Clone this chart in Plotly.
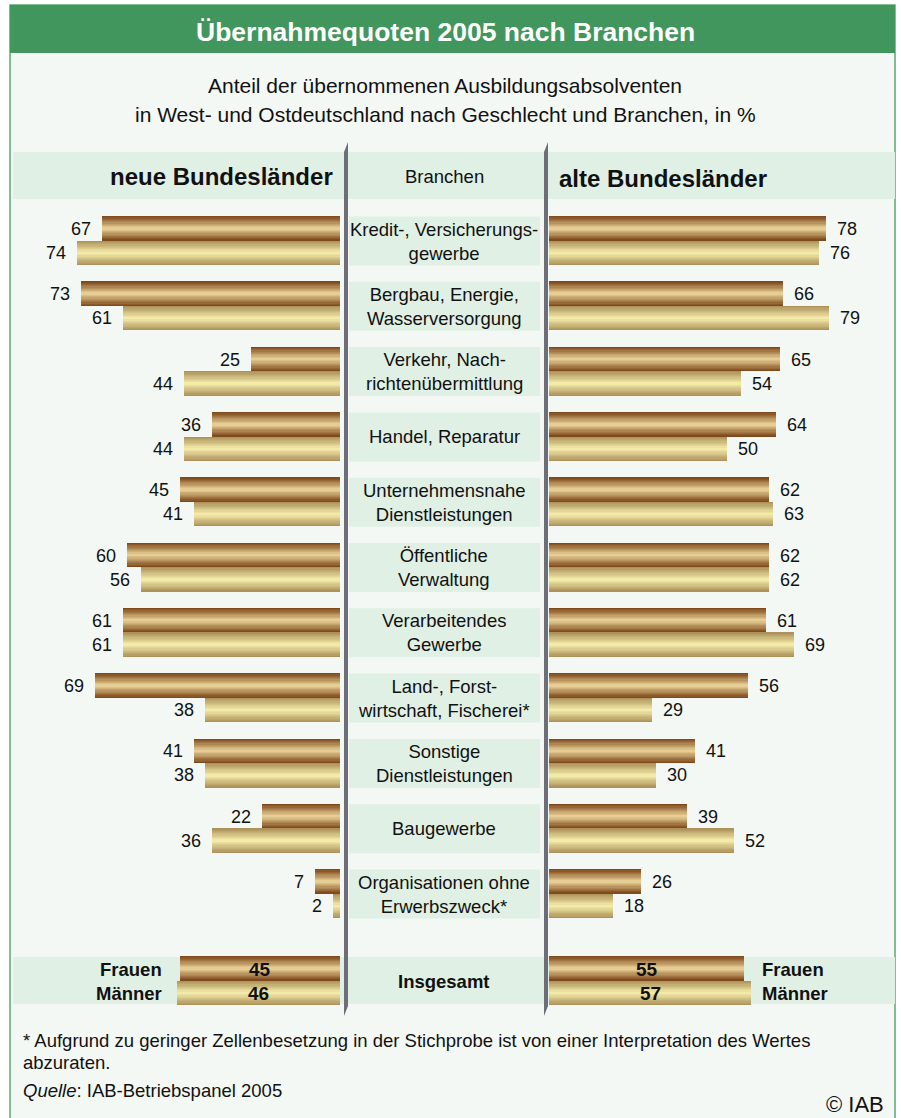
import plotly.graph_objects as go

W, H = 901, 1118

# ---------------- data ----------------
branchen = [
    "Kredit-, Versicherungs-<br>gewerbe",
    "Bergbau, Energie,<br>Wasserversorgung",
    "Verkehr, Nach-<br>richtenübermittlung",
    "Handel, Reparatur",
    "Unternehmensnahe<br>Dienstleistungen",
    "Öffentliche<br>Verwaltung",
    "Verarbeitendes<br>Gewerbe",
    "Land-, Forst-<br>wirtschaft, Fischerei*",
    "Sonstige<br>Dienstleistungen",
    "Baugewerbe",
    "Organisationen ohne<br>Erwerbszweck*",
]
neue_frauen = [67, 73, 25, 36, 45, 60, 61, 69, 41, 22, 7]
neue_maenner = [74, 61, 44, 44, 41, 56, 61, 38, 38, 36, 2]
alte_frauen = [78, 66, 65, 64, 62, 62, 61, 56, 41, 39, 26]
alte_maenner = [76, 79, 54, 50, 63, 62, 69, 29, 30, 52, 18]

total_cat = ["Insgesamt"]
neue_total_frauen = [45]
neue_total_maenner = [46]
alte_total_frauen = [55]
alte_total_maenner = [57]

# ---------------- style ----------------
FONT = "Arial, Liberation Sans, sans-serif"
FRAUEN_EDGE, FRAUEN_CENTER = "#804b1c", "#e6cd93"
MAENNER_EDGE, MAENNER_CENTER = "#ad935b", "#f3eaa8"
BG = "#f3f8f4"
BAND = "#e0f0e4"
GREEN = "#41965d"
SEP = "#6e6e78"
N_LAYERS = 10
BAR_W = 0.375


def px(x):
    return x / W


def py(y):
    return 1 - y / H


def hex2rgb(h):
    h = h.lstrip("#")
    return tuple(int(h[i:i + 2], 16) for i in (0, 2, 4))


def mix(c1, c2, t):
    a, b = hex2rgb(c1), hex2rgb(c2)
    return "rgb(%d,%d,%d)" % tuple(round(a[i] + (b[i] - a[i]) * t) for i in range(3))


fig = go.Figure()


def gradient_bars(values, cats, xa, ya, center_off, edge, center):
    n = len(values)
    for k in range(N_LAYERS):
        f = 1 - k / N_LAYERS
        w = BAR_W * f
        col = mix(edge, center, k / (N_LAYERS - 1))
        fig.add_trace(go.Bar(
            x=values, y=cats, orientation="h",
            width=[w] * n, offset=[center_off - w / 2] * n,
            marker=dict(color=col, line=dict(width=0)),
            xaxis=xa, yaxis=ya, hoverinfo="skip", showlegend=False,
        ))


# main bars
gradient_bars(neue_frauen, branchen, "x", "y", -BAR_W / 2, FRAUEN_EDGE, FRAUEN_CENTER)
gradient_bars(neue_maenner, branchen, "x", "y", BAR_W / 2, MAENNER_EDGE, MAENNER_CENTER)
gradient_bars(alte_frauen, branchen, "x2", "y", -BAR_W / 2, FRAUEN_EDGE, FRAUEN_CENTER)
gradient_bars(alte_maenner, branchen, "x2", "y", BAR_W / 2, MAENNER_EDGE, MAENNER_CENTER)
# totals
gradient_bars(neue_total_frauen, total_cat, "x3", "y2", -BAR_W / 2, FRAUEN_EDGE, FRAUEN_CENTER)
gradient_bars(neue_total_maenner, total_cat, "x3", "y2", BAR_W / 2, MAENNER_EDGE, MAENNER_CENTER)
gradient_bars(alte_total_frauen, total_cat, "x4", "y2", -BAR_W / 2, FRAUEN_EDGE, FRAUEN_CENTER)
gradient_bars(alte_total_maenner, total_cat, "x4", "y2", BAR_W / 2, MAENNER_EDGE, MAENNER_CENTER)

SCALE = 3.55  # px per percent
left_dom = [px(13), px(340)]
right_dom = [px(549), px(895)]
left_range = [(340 - 13) / SCALE, 0]
right_range = [0, (895 - 549) / SCALE]

row0, step = 241.0, 65.3
main_top = row0 - step / 2
main_bot = row0 + step * 10 + step / 2
tot_c = 981.0
tot_top, tot_bot = tot_c - step / 2, tot_c + step / 2

axis_off = dict(showgrid=False, zeroline=False, showticklabels=False, showline=False, ticks="")
fig.update_layout(
    width=W, height=H,
    margin=dict(l=0, r=0, t=0, b=0),
    paper_bgcolor="white", plot_bgcolor="rgba(0,0,0,0)",
    barmode="overlay", bargap=0,
    font=dict(family=FONT, size=18, color="#111111"),
    xaxis=dict(domain=left_dom, range=left_range, anchor="y", fixedrange=True, **axis_off),
    xaxis2=dict(domain=right_dom, range=right_range, anchor="y", fixedrange=True, **axis_off),
    xaxis3=dict(domain=left_dom, range=left_range, anchor="y2", fixedrange=True, **axis_off),
    xaxis4=dict(domain=right_dom, range=right_range, anchor="y2", fixedrange=True, **axis_off),
    yaxis=dict(domain=[py(main_bot), py(main_top)], type="category",
               categoryorder="array", categoryarray=branchen,
               range=[10.5, -0.5], anchor="x", fixedrange=True, **axis_off),
    yaxis2=dict(domain=[py(tot_bot), py(tot_top)], type="category",
                range=[0.5, -0.5], anchor="x3", fixedrange=True, **axis_off),
)

shapes = []
# frame background & border
shapes.append(dict(type="rect", xref="paper", yref="paper", x0=px(10), x1=px(895), y0=py(1125), y1=py(5),
                   fillcolor=BG, line=dict(color="#5aa872", width=1.5), layer="below"))
# title band
shapes.append(dict(type="rect", xref="paper", yref="paper", x0=px(10), x1=px(895), y0=py(53), y1=py(5),
                   fillcolor=GREEN, line=dict(width=0), layer="below"))
# header band
shapes.append(dict(type="rect", xref="paper", yref="paper", x0=px(13), x1=px(895), y0=py(199), y1=py(152),
                   fillcolor=BAND, line=dict(width=0), layer="below"))
# total band
shapes.append(dict(type="rect", xref="paper", yref="paper", x0=px(13), x1=px(895), y0=py(1004), y1=py(957),
                   fillcolor=BAND, line=dict(width=0), layer="below"))
# centre label boxes
for i in range(len(branchen)):
    shapes.append(dict(type="rect", xref="paper", yref="y", x0=px(349), x1=px(540),
                       y0=i - BAR_W, y1=i + BAR_W, fillcolor=BAND, line=dict(width=0), layer="below"))
# separators
for xs in (344, 544):
    path = "M %f,%f L %f,%f L %f,%f L %f,%f Z" % (
        px(xs), py(152), px(xs + 4), py(142), px(xs + 4), py(1006), px(xs), py(1016))
    shapes.append(dict(type="path", xref="paper", yref="paper", path=path,
                       fillcolor=SEP, line=dict(width=0), layer="above"))
fig.update_layout(shapes=shapes)

ann = []


def paper_text(x, y, text, size=18, anchor="center", bold=False, color="#111111"):
    ann.append(dict(xref="paper", yref="paper", x=px(x), y=py(y), text=("<b>%s</b>" % text) if bold else text,
                    showarrow=False, xanchor=anchor, yanchor="middle",
                    font=dict(size=size, color=color, family=FONT)))


paper_text(445, 32, "Übernahmequoten 2005 nach Branchen", size=26.5, bold=True, color="white")
paper_text(445, 85, "Anteil der übernommenen Ausbildungsabsolventen", size=21)
paper_text(445, 114, "in West- und Ostdeutschland nach Geschlecht und Branchen, in %", size=21)
paper_text(335, 177, "neue Bundesländer", size=24, anchor="right", bold=True)
paper_text(444, 177, "Branchen", size=18.5)
paper_text(557, 178, "alte Bundesländer", size=24, anchor="left", bold=True)

# centre category labels
for c in branchen:
    ann.append(dict(xref="paper", yref="y", x=px(444), y=c, text=c, showarrow=False,
                    xanchor="center", yanchor="middle", align="center",
                    font=dict(size=18.5, color="#111111", family=FONT)))

# value labels
VS = 18
for c, f, m in zip(branchen, neue_frauen, neue_maenner):
    ann.append(dict(xref="x", yref="y", x=f, y=c, text=str(f), showarrow=False, xanchor="right",
                    yanchor="middle", xshift=-9, yshift=12, font=dict(size=VS)))
    ann.append(dict(xref="x", yref="y", x=m, y=c, text=str(m), showarrow=False, xanchor="right",
                    yanchor="middle", xshift=-9, yshift=-12, font=dict(size=VS)))
for c, f, m in zip(branchen, alte_frauen, alte_maenner):
    ann.append(dict(xref="x2", yref="y", x=f, y=c, text=str(f), showarrow=False, xanchor="left",
                    yanchor="middle", xshift=9, yshift=12, font=dict(size=VS)))
    ann.append(dict(xref="x2", yref="y", x=m, y=c, text=str(m), showarrow=False, xanchor="left",
                    yanchor="middle", xshift=9, yshift=-12, font=dict(size=VS)))

# totals
for xa, f, m in (("x3", neue_total_frauen[0], neue_total_maenner[0]),
                 ("x4", alte_total_frauen[0], alte_total_maenner[0])):
    ann.append(dict(xref=xa, yref="y2", x=f / 2, y=total_cat[0], text="<b>%d</b>" % f, showarrow=False,
                    xanchor="center", yanchor="middle", yshift=12, font=dict(size=19)))
    ann.append(dict(xref=xa, yref="y2", x=m / 2, y=total_cat[0], text="<b>%d</b>" % m, showarrow=False,
                    xanchor="center", yanchor="middle", yshift=-12, font=dict(size=19)))
paper_text(164, 969, "Frauen", size=18.5, anchor="right", bold=True)
paper_text(164, 993, "Männer", size=18.5, anchor="right", bold=True)
paper_text(444, 981, "Insgesamt", size=18.5, bold=True)
paper_text(760, 969, "Frauen", size=18.5, anchor="left", bold=True)
paper_text(760, 993, "Männer", size=18.5, anchor="left", bold=True)

# footnotes
paper_text(21, 1040, "* Aufgrund zu geringer Zellenbesetzung in der Stichprobe ist von einer Interpretation des Wertes",
           size=18.5, anchor="left")
paper_text(21, 1062, "abzuraten.", size=18.5, anchor="left")
paper_text(21, 1090, "<i>Quelle</i>: IAB-Betriebspanel 2005", size=18.5, anchor="left")
paper_text(886, 1104, "© IAB", size=22, anchor="right")

fig.update_layout(annotations=ann)
fig.write_html("out.html", config={"displayModeBar": False},
               post_script="document.body.style.margin='0';")
